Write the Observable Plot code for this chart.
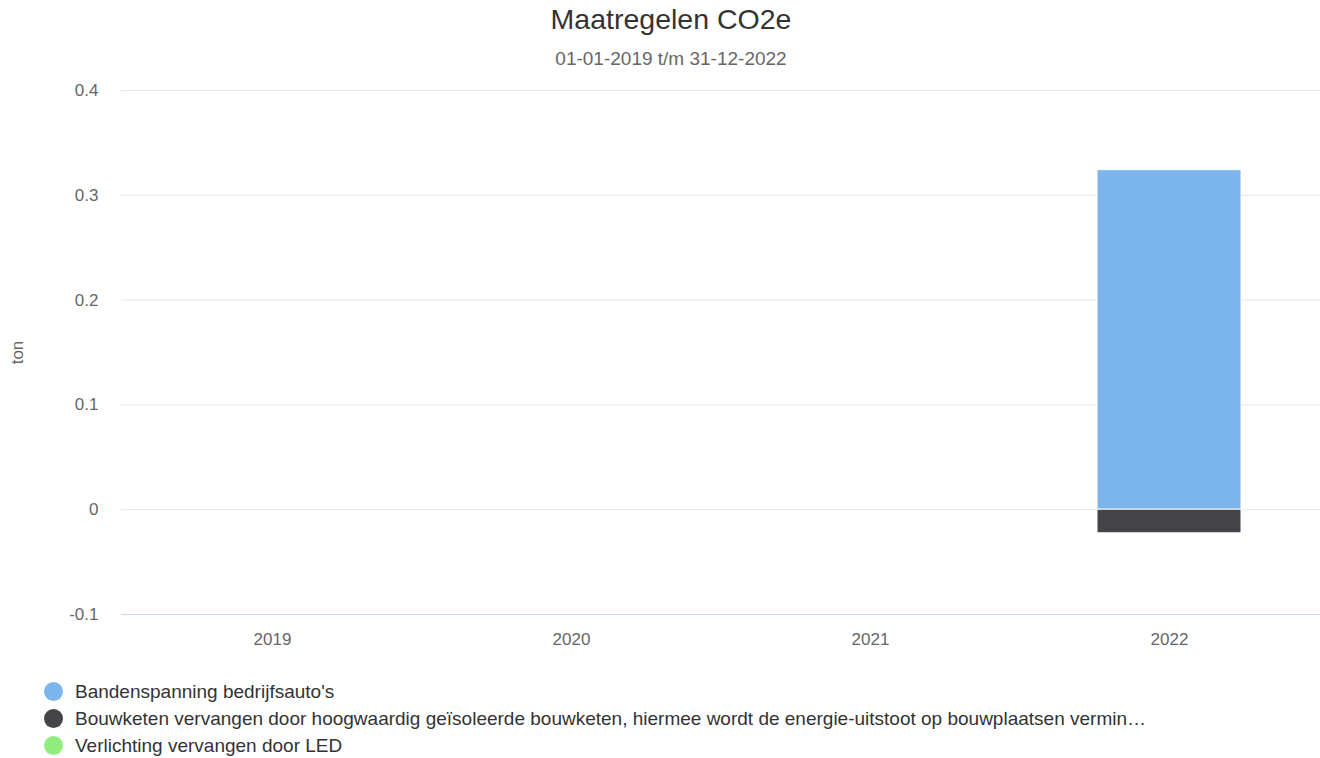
<!DOCTYPE html>
<html>
<head>
<meta charset="utf-8">
<script src="https://cdn.jsdelivr.net/npm/d3@7"></script>
<script src="https://cdn.jsdelivr.net/npm/@observablehq/plot@0.6"></script>
<style>
  html, body { margin: 0; padding: 0; background: #fff; }
  body { width: 1320px; height: 758px; position: relative; overflow: hidden; font-family: "Liberation Sans", Arial, Helvetica, sans-serif; }
  #header { height: 75px; position: relative; }
  #title { position: absolute; left: 11px; width: 1320px; top: 2px; text-align: center; font-size: 28.5px; line-height: 34px; color: #333; }
  #subtitle { position: absolute; left: 11px; width: 1320px; top: 48px; text-align: center; font-size: 19px; line-height: 22px; color: #666; }
  #chart svg { display: block; }
  #legend { padding-top: 13px; padding-left: 44px; }
  .item { height: 27px; line-height: 27px; font-size: 19px; color: #333; white-space: nowrap; display: flex; align-items: center; }
  .dot { width: 19px; height: 19px; border-radius: 50%; margin-right: 12px; flex: none; }
</style>
</head>
<body>
<div id="header">
  <div id="title">Maatregelen CO2e</div>
  <div id="subtitle">01-01-2019 t/m 31-12-2022</div>
</div>
<div id="chart"></div>
<div id="legend"></div>
<script>
const categories = ["2019", "2020", "2021", "2022"];
const seriesNames = [
  "Bandenspanning bedrijfsauto's",
  "Bouwketen vervangen door hoogwaardig geïsoleerde bouwketen, hiermee wordt de energie-uitstoot op bouwplaatsen vermin…",
  "Verlichting vervangen door LED"
];
const bandenspanning = [null, null, null, 0.324];
const bouwketen = [null, null, null, -0.0225];
const verlichting = [null, null, null, null];
const seriesColors = ["#7cb5ec", "#434348", "#90ed7d"];
const yTicks = [-0.1, 0, 0.1, 0.2, 0.3, 0.4];
const yLabel = "ton";

const seriesValues = [bandenspanning, bouwketen, verlichting];
const rows = [];
seriesValues.forEach((vals, si) => {
  vals.forEach((v, ci) => {
    if (v != null) rows.push({ year: categories[ci], series: seriesNames[si], value: v });
  });
});

const chart = Plot.plot({
  width: 1320,
  height: 590,
  marginTop: 15,
  marginBottom: 51,
  marginLeft: 121,
  marginRight: 0,
  style: { fontFamily: '"Liberation Sans", Arial, sans-serif', fontSize: "17px", color: "#666", background: "#fff" },
  x: { domain: categories, paddingInner: 0.52, paddingOuter: 0.26, align: 0.5, label: null, tickSize: 0, tickPadding: 18 },
  y: { domain: [-0.1, 0.4], ticks: yTicks, tickFormat: d => String(d), tickSize: 0, tickPadding: 23, label: null },
  color: { domain: seriesNames, range: seriesColors },
  marks: [
    Plot.gridY(yTicks, { stroke: "#e6e6e6", strokeOpacity: 1 }),
    Plot.ruleY([-0.1], { stroke: "#ccd6eb", strokeWidth: 1 }),
    Plot.barY(rows, Plot.stackY({ x: "year", y: "value", fill: "series", order: seriesNames, stroke: "#fff", strokeWidth: 1 })),
    Plot.text([yLabel], { frameAnchor: "left", textAnchor: "middle", dx: -104, rotate: -90, fill: "#666", fontSize: 17, text: d => d })
  ]
});
document.getElementById("chart").appendChild(chart);

const legend = document.getElementById("legend");
seriesNames.forEach((name, i) => {
  const item = document.createElement("div");
  item.className = "item";
  const dot = document.createElement("span");
  dot.className = "dot";
  dot.style.background = seriesColors[i];
  const label = document.createElement("span");
  label.textContent = name;
  item.appendChild(dot);
  item.appendChild(label);
  legend.appendChild(item);
});
</script>
</body>
</html>
